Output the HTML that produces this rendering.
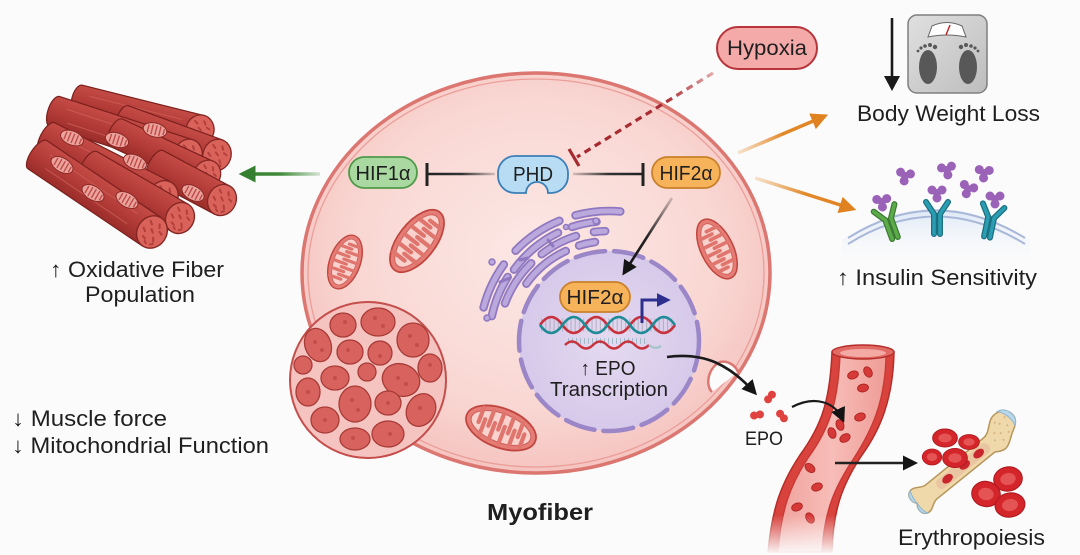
<!DOCTYPE html>
<html><head><meta charset="utf-8">
<style>
html,body{margin:0;padding:0;background:#fbfbfb;}
svg{display:block;}
text{font-family:"Liberation Sans",Arial,sans-serif;fill:#1f1f1f;}
</style></head>
<body>
<svg width="1080" height="555" viewBox="0 0 1080 555" xmlns="http://www.w3.org/2000/svg">
<defs>
  <radialGradient id="cellg" cx="50%" cy="45%" r="55%">
    <stop offset="0" stop-color="#fce8e5"/>
    <stop offset="0.7" stop-color="#f9d7d3"/>
    <stop offset="1" stop-color="#f5c4c0"/>
  </radialGradient>
  <radialGradient id="nucg" cx="50%" cy="50%" r="50%">
    <stop offset="0" stop-color="#e4daf0"/>
    <stop offset="1" stop-color="#d6c9ea"/>
  </radialGradient>
  <linearGradient id="muscg" x1="0" y1="0" x2="0" y2="1">
    <stop offset="0" stop-color="#c44b46"/>
    <stop offset="0.5" stop-color="#b43c38"/>
    <stop offset="1" stop-color="#9a2d2a"/>
  </linearGradient>
  <linearGradient id="vesg" x1="0" y1="0" x2="1" y2="0">
    <stop offset="0" stop-color="#f0a29d"/>
    <stop offset="0.5" stop-color="#f7bdb8"/>
    <stop offset="1" stop-color="#ef9c96"/>
  </linearGradient>
  <linearGradient id="fadeb" x1="0" y1="0" x2="0" y2="1">
    <stop offset="0" stop-color="#fbfbfb" stop-opacity="0"/>
    <stop offset="1" stop-color="#fbfbfb" stop-opacity="1"/>
  </linearGradient>
  <linearGradient id="memg" x1="0" y1="0" x2="0" y2="1">
    <stop offset="0" stop-color="#dce8f6"/>
    <stop offset="1" stop-color="#fbfbfb" stop-opacity="0"/>
  </linearGradient>
  <linearGradient id="scaleg" x1="0" y1="0" x2="1" y2="1">
    <stop offset="0" stop-color="#e0e0e0"/>
    <stop offset="1" stop-color="#bdbdbd"/>
  </linearGradient>
  <linearGradient id="org1" gradientUnits="userSpaceOnUse" x1="738" y1="153" x2="827" y2="115">
    <stop offset="0" stop-color="#e89a45" stop-opacity="0.25"/>
    <stop offset="0.5" stop-color="#e3892b"/>
    <stop offset="1" stop-color="#e0821f"/>
  </linearGradient>
  <linearGradient id="org2" gradientUnits="userSpaceOnUse" x1="755" y1="178" x2="855" y2="210">
    <stop offset="0" stop-color="#e89a45" stop-opacity="0.25"/>
    <stop offset="0.5" stop-color="#e3892b"/>
    <stop offset="1" stop-color="#e0821f"/>
  </linearGradient>
  <linearGradient id="grn" gradientUnits="userSpaceOnUse" x1="320" y1="0" x2="240" y2="0">
    <stop offset="0" stop-color="#3f8a3a" stop-opacity="0.2"/>
    <stop offset="0.5" stop-color="#3f8a3a"/>
    <stop offset="1" stop-color="#357f30"/>
  </linearGradient>
  <linearGradient id="ln1" gradientUnits="userSpaceOnUse" x1="495" y1="0" x2="428" y2="0">
    <stop offset="0" stop-color="#333" stop-opacity="0.2"/>
    <stop offset="0.5" stop-color="#333"/>
    <stop offset="1" stop-color="#222"/>
  </linearGradient>
  <linearGradient id="ln2" gradientUnits="userSpaceOnUse" x1="573" y1="0" x2="643" y2="0">
    <stop offset="0" stop-color="#333" stop-opacity="0.2"/>
    <stop offset="0.5" stop-color="#333"/>
    <stop offset="1" stop-color="#222"/>
  </linearGradient>
  <linearGradient id="ln3" gradientUnits="userSpaceOnUse" x1="672" y1="198" x2="622" y2="276">
    <stop offset="0" stop-color="#222" stop-opacity="0.2"/>
    <stop offset="0.5" stop-color="#222"/>
    <stop offset="1" stop-color="#111"/>
  </linearGradient>
  <linearGradient id="hyp" gradientUnits="userSpaceOnUse" x1="713" y1="73" x2="575" y2="158">
    <stop offset="0" stop-color="#e2a9ab"/>
    <stop offset="0.35" stop-color="#a92c33"/>
    <stop offset="1" stop-color="#a52a2f"/>
  </linearGradient>
  <marker id="ahB" viewBox="0 0 10 10" refX="8" refY="5" markerWidth="15" markerHeight="15" markerUnits="userSpaceOnUse" orient="auto">
    <path d="M0,0 L10,5 L0,10 Z" fill="#151515"/>
  </marker>
  <marker id="ahO" viewBox="0 0 10 10" refX="8" refY="5" markerWidth="17" markerHeight="17" markerUnits="userSpaceOnUse" orient="auto">
    <path d="M0,0 L10,5 L0,10 Z" fill="#e0821f"/>
  </marker>
  <marker id="ahG" viewBox="0 0 10 10" refX="8" refY="5" markerWidth="17" markerHeight="17" markerUnits="userSpaceOnUse" orient="auto">
    <path d="M0,0 L10,5 L0,10 Z" fill="#357f30"/>
  </marker>
  <marker id="ahN" viewBox="0 0 10 10" refX="8" refY="5" markerWidth="14" markerHeight="14" markerUnits="userSpaceOnUse" orient="auto">
    <path d="M0,0 L10,5 L0,10 Z" fill="#2d2f8f"/>
  </marker>
  <g id="mito">
    <ellipse cx="0" cy="0" rx="35" ry="17" fill="#e57d76" stroke="#c0453e" stroke-width="1.6"/>
    <ellipse cx="0" cy="0" rx="30" ry="12.5" fill="#f9d2ce" stroke="#d0625b" stroke-width="1"/>
    <path d="M-22,-11 V2 M-12,-12 V2 M-2,-12.5 V2 M8,-12 V2 M18,-11 V2 M-17,12 V-2 M-7,12.5 V-2 M3,12.5 V-2 M13,12 V-2 M23,10 V-2" stroke="#e0756e" stroke-width="4" stroke-linecap="round"/>
  </g>
  <g id="cap">
    <ellipse cx="0" cy="0" rx="14" ry="16" fill="#d9625b" stroke="#842623" stroke-width="1.3"/>
    <path d="M-7,-8 l3,2 M2,-10 l2,3 M6,-4 l3,1 M-9,1 l3,2 M-2,-2 l3,2 M4,4 l2,3 M-5,8 l3,1 M7,9 l-2,2 M-1,11 l2,1" stroke="#b4403b" stroke-width="2" stroke-linecap="round"/>
  </g>
  <g id="bmito">
    <ellipse cx="0" cy="0" rx="12" ry="7" fill="#eba39d" stroke="#8e2a26" stroke-width="1"/>
    <path d="M-7,-4 V4 M-3,-5 V5 M1,-5 V5 M5,-5 V5 M9,-3 V3" stroke="#c04a45" stroke-width="1.4"/>
  </g>
  <g id="rbc">
    <ellipse cx="0" cy="0" rx="13" ry="10" fill="#d4252b" stroke="#b01a20" stroke-width="1"/>
    <ellipse cx="0" cy="0" rx="7" ry="5" fill="#e55454"/>
  </g>
  <g id="rbcs">
    <ellipse cx="0" cy="0" rx="5" ry="3.5" fill="#d63a38" stroke="#a9221f" stroke-width="0.8"/>
  </g>
  <g id="lig">
    <circle cx="-5" cy="-3" r="4.5" fill="#9b63b8"/>
    <circle cx="5" cy="-3" r="4.5" fill="#9b63b8"/>
    <circle cx="0" cy="5" r="4.5" fill="#9b63b8"/>
    <circle cx="0" cy="0" r="4" fill="#9b63b8"/>
  </g>
  <g id="epo">
    <circle cx="-3" cy="0" r="4" fill="#e0433f"/>
    <circle cx="3" cy="0" r="4" fill="#e0433f"/>
  </g>
</defs>

<!-- ============ MUSCLE BUNDLE ============ -->
<g>
  <g transform="translate(200,130) rotate(14)">
    <path d="M0,-15 H-125 A7,15 0 0 0 -125,15 H0 Z" fill="url(#muscg)" stroke="#7a201d" stroke-width="1.2"/>
    <path d="M-115,-6 H-20 M-110,6 H-25" stroke="#d0625c" stroke-width="1" opacity=".7"/>
    <use href="#cap" transform="scale(1,0.95)"/>
  </g>
  <g transform="translate(217,155) rotate(20)">
    <path d="M0,-16 H-100 A7,16 0 0 0 -100,16 H0 Z" fill="url(#muscg)" stroke="#7a201d" stroke-width="1.2"/>
    <use href="#cap"/>
  </g>
  <g transform="translate(188,155) rotate(18)">
    <path d="M0,-16 H-140 A7,16 0 0 0 -140,16 H0 Z" fill="url(#muscg)" stroke="#7a201d" stroke-width="1.2"/>
    <path d="M-130,-6 H-20 M-125,7 H-25" stroke="#d0625c" stroke-width="1" opacity=".7"/>
    <use href="#cap"/>
  </g>
  <g transform="translate(207,175) rotate(25)">
    <path d="M0,-15 H-100 A7,15 0 0 0 -100,15 H0 Z" fill="url(#muscg)" stroke="#7a201d" stroke-width="1.2"/>
    <use href="#cap" transform="scale(0.95)"/>
  </g>
  <g transform="translate(222,200) rotate(28)">
    <path d="M0,-16 H-75 A7,16 0 0 0 -75,16 H0 Z" fill="url(#muscg)" stroke="#7a201d" stroke-width="1.2"/>
    <use href="#cap"/>
  </g>
  <g transform="translate(163,197) rotate(27)">
    <path d="M0,-17 H-130 A7,17 0 0 0 -130,17 H0 Z" fill="url(#muscg)" stroke="#7a201d" stroke-width="1.2"/>
    <path d="M-120,-7 H-22 M-116,7 H-25" stroke="#d0625c" stroke-width="1" opacity=".7"/>
    <use href="#cap" transform="scale(1.05)"/>
  </g>
  <g transform="translate(180,218) rotate(30)">
    <path d="M0,-16 H-105 A7,16 0 0 0 -105,16 H0 Z" fill="url(#muscg)" stroke="#7a201d" stroke-width="1.2"/>
    <use href="#cap"/>
  </g>
  <g transform="translate(152,232) rotate(34)">
    <path d="M0,-17 H-138 A7,17 0 0 0 -138,17 H0 Z" fill="url(#muscg)" stroke="#7a201d" stroke-width="1.2"/>
    <path d="M-128,-7 H-22 M-124,7 H-25" stroke="#d0625c" stroke-width="1" opacity=".7"/>
    <use href="#cap" transform="scale(1.05)"/>
  </g>
  <use href="#bmito" transform="translate(72,138) rotate(22)"/>
  <use href="#bmito" transform="translate(117,140) rotate(18)"/>
  <use href="#bmito" transform="translate(155,130) rotate(14)"/>
  <use href="#bmito" transform="translate(135,162) rotate(22)"/>
  <use href="#bmito" transform="translate(62,165) rotate(30)"/>
  <use href="#bmito" transform="translate(93,193) rotate(30)"/>
  <use href="#bmito" transform="translate(127,200) rotate(30)"/>
  <use href="#bmito" transform="translate(193,193) rotate(28)"/>
</g>

<!-- green arrow -->
<line x1="320" y1="174" x2="242" y2="174" stroke="url(#grn)" stroke-width="3.5" marker-end="url(#ahG)"/>

<!-- ============ CELL ============ -->
<ellipse cx="536" cy="273" rx="234" ry="200" fill="url(#cellg)" stroke="#dc7671" stroke-width="3.5"/>
<ellipse cx="536" cy="273" rx="228" ry="194" fill="none" stroke="#eb9e99" stroke-width="1.3"/>
<path d="M712,392 C705,385 708,368 720,362 C728,360 736,366 738,372" fill="#fbfbfb" stroke="#dc7671" stroke-width="2.5"/>

<!-- mitochondria -->
<use href="#mito" transform="translate(345,262) rotate(-70) scale(0.8,0.9)"/>
<use href="#mito" transform="translate(417,241) rotate(-52) scale(1.05,1.1)"/>
<use href="#mito" transform="translate(717,249) rotate(64) scale(0.92,0.95)"/>
<use href="#mito" transform="translate(501,428) rotate(21) scale(1.05,1.15)"/>

<!-- ER -->
<g fill="none" stroke-linecap="round">
  <g stroke="#8f78c0" stroke-width="8.5">
    <path d="M526.4,283.7 A100,100 0 0 1 565.8,251.0 M579.1,245.6 A100,100 0 0 1 595.0,242.0"/>
    <path d="M505.0,303.4 A110,110 0 0 1 531.2,263.2 M541.7,254.2 A110,110 0 0 1 576.0,236.0 M593.9,232.0 A110,110 0 0 1 605.2,231.1"/>
    <path d="M491.8,316.1 A120,120 0 0 1 507.7,277.0 M514.0,269.6 A120,120 0 0 1 558.0,232.7 M571.9,226.9 A120,120 0 0 1 596.5,221.7"/>
    <path d="M483.6,307.4 A130,130 0 0 1 503.8,264.5 M515.6,250.7 A130,130 0 0 1 559.4,220.8 M575.5,215.4 A130,130 0 0 1 620.3,211.5"/>
  </g>
  <g stroke="#bba9dd" stroke-width="5">
    <path d="M526.4,283.7 A100,100 0 0 1 565.8,251.0 M579.1,245.6 A100,100 0 0 1 595.0,242.0"/>
    <path d="M505.0,303.4 A110,110 0 0 1 531.2,263.2 M541.7,254.2 A110,110 0 0 1 576.0,236.0 M593.9,232.0 A110,110 0 0 1 605.2,231.1"/>
    <path d="M491.8,316.1 A120,120 0 0 1 507.7,277.0 M514.0,269.6 A120,120 0 0 1 558.0,232.7 M571.9,226.9 A120,120 0 0 1 596.5,221.7"/>
    <path d="M483.6,307.4 A130,130 0 0 1 503.8,264.5 M515.6,250.7 A130,130 0 0 1 559.4,220.8 M575.5,215.4 A130,130 0 0 1 620.3,211.5"/>
  </g>
  <g fill="#bba9dd" stroke="#8f78c0" stroke-width="1.5">
    <circle cx="596" cy="221" r="3"/>
    <circle cx="487" cy="318" r="3"/>
    <circle cx="566" cy="227" r="2.5"/>
    <circle cx="492" cy="262" r="3"/>
  </g>
  <path d="M500,282 L510,278 M520,260 L528,258 M548,240 L553,246" stroke="#8f78c0" stroke-width="3"/>
</g>

<!-- nucleus -->
<circle cx="609" cy="341" r="90" fill="url(#nucg)"/>
<circle cx="609" cy="341" r="90" fill="none" stroke="#9b86c7" stroke-width="4.5" stroke-dasharray="30 9" stroke-linecap="round"/>

<!-- cross section -->
<g>
  <circle cx="368" cy="380" r="78" fill="#f5c4c0" stroke="#c44e4b" stroke-width="2"/>
  <g fill="#d8635e" stroke="#a83b37" stroke-width="1.3">
    <ellipse cx="318" cy="345" rx="13" ry="17" transform="rotate(-20 318 345)"/>
    <ellipse cx="343" cy="325" rx="13" ry="12"/>
    <ellipse cx="378" cy="322" rx="17" ry="14"/>
    <ellipse cx="413" cy="340" rx="16" ry="17"/>
    <ellipse cx="303" cy="365" rx="9" ry="9"/>
    <ellipse cx="350" cy="352" rx="13" ry="12"/>
    <ellipse cx="380" cy="353" rx="12" ry="12"/>
    <ellipse cx="430" cy="368" rx="12" ry="14"/>
    <ellipse cx="367" cy="372" rx="9" ry="9"/>
    <ellipse cx="335" cy="378" rx="14" ry="12"/>
    <ellipse cx="401" cy="380" rx="19" ry="16" transform="rotate(20 401 380)"/>
    <ellipse cx="308" cy="392" rx="12" ry="14"/>
    <ellipse cx="355" cy="404" rx="16" ry="18"/>
    <ellipse cx="388" cy="403" rx="13" ry="12"/>
    <ellipse cx="421" cy="410" rx="14" ry="17" transform="rotate(30 421 410)"/>
    <ellipse cx="325" cy="420" rx="14" ry="13"/>
    <ellipse cx="355" cy="439" rx="15" ry="11"/>
    <ellipse cx="388" cy="434" rx="16" ry="13"/>
  </g>
  <g fill="#b94640" opacity="0.7">
    <circle cx="315" cy="342" r="2"/><circle cx="322" cy="350" r="2"/><circle cx="345" cy="322" r="2"/>
    <circle cx="375" cy="318" r="2"/><circle cx="383" cy="326" r="2"/><circle cx="410" cy="336" r="2"/>
    <circle cx="417" cy="345" r="2"/><circle cx="348" cy="350" r="2"/><circle cx="380" cy="356" r="2"/>
    <circle cx="430" cy="365" r="2"/><circle cx="335" cy="378" r="2"/><circle cx="398" cy="378" r="2"/>
    <circle cx="406" cy="384" r="2"/><circle cx="352" cy="400" r="2"/><circle cx="358" cy="410" r="2"/>
    <circle cx="388" cy="403" r="2"/><circle cx="420" cy="408" r="2"/><circle cx="325" cy="420" r="2"/>
    <circle cx="353" cy="438" r="2"/><circle cx="390" cy="434" r="2"/><circle cx="308" cy="392" r="2"/>
  </g>
</g>

<!-- DNA -->
<g fill="none">
  <path d="M541,325 H674" stroke="#9a9aa6" stroke-width="13" stroke-dasharray="1.2 3" opacity="0.55"/>
  <path d="M540,325 Q551.25,309 562.5,325 T585,325 T607.5,325 T630,325 T652.5,325 T675,325" stroke="#c8323c" stroke-width="2.6"/>
  <path d="M540,325 Q551.25,341 562.5,325 T585,325 T607.5,325 T630,325 T652.5,325 T675,325" stroke="#1f8b96" stroke-width="2.6"/>
  <path d="M568,341 H646" stroke="#7aa9b0" stroke-width="6" stroke-dasharray="1 3" opacity="0.6"/>
  <path d="M565,345 Q572,338 579,345 T593,345 T607,345 T621,345 T635,345 T649,345" stroke="#c8323c" stroke-width="2.4"/>
  <path d="M649,345 Q655,350 661,346" stroke="#9fc2c8" stroke-width="2"/>
</g>
<polyline points="642,323 642,300 668,300" fill="none" stroke="#2d2f8f" stroke-width="3" marker-end="url(#ahN)"/>

<rect x="560" y="282" width="70" height="30" rx="15" fill="#f7b35a" stroke="#c9802a" stroke-width="1.8"/>
<text x="595" y="304" font-size="20" text-anchor="middle" textLength="57" lengthAdjust="spacingAndGlyphs">HIF2α</text>

<text x="608" y="375" font-size="20" text-anchor="middle" textLength="55" lengthAdjust="spacingAndGlyphs">↑ EPO</text>
<text x="609" y="396" font-size="20" text-anchor="middle" textLength="118" lengthAdjust="spacingAndGlyphs">Transcription</text>

<!-- HIF1a / PHD / HIF2a -->
<line x1="495" y1="174" x2="428" y2="174" stroke="url(#ln1)" stroke-width="2.6"/>
<line x1="427" y1="163" x2="427" y2="186" stroke="#222" stroke-width="3"/>
<line x1="573" y1="174" x2="643" y2="174" stroke="url(#ln2)" stroke-width="2.6"/>
<line x1="643" y1="163" x2="643" y2="186" stroke="#222" stroke-width="3"/>

<rect x="349" y="157" width="68" height="31" rx="15.5" fill="#a9d8a0" stroke="#4f9a48" stroke-width="1.8"/>
<text x="383" y="180" font-size="20" text-anchor="middle" textLength="55" lengthAdjust="spacingAndGlyphs">HIF1α</text>

<path d="M515,156 H551 A17,17 0 0 1 568,173 V176 A17,17 0 0 1 551,193 H548 A11,11 0 0 0 526,193 H515 A17,17 0 0 1 498,176 V173 A17,17 0 0 1 515,156 Z" fill="#b7dcf3" stroke="#3b7fb8" stroke-width="1.8"/>
<text x="533" y="181" font-size="20" text-anchor="middle" textLength="40" lengthAdjust="spacingAndGlyphs">PHD</text>

<rect x="652" y="157" width="68" height="31" rx="15.5" fill="#f7b35a" stroke="#c9802a" stroke-width="1.8"/>
<text x="686" y="180" font-size="20" text-anchor="middle" textLength="53" lengthAdjust="spacingAndGlyphs">HIF2α</text>

<!-- Hypoxia -->
<line x1="713" y1="73" x2="577" y2="157" stroke="url(#hyp)" stroke-width="3.2" stroke-dasharray="7 5"/>
<line x1="569" y1="149" x2="579" y2="166" stroke="#a52a2f" stroke-width="3.2"/>
<rect x="717" y="27" width="100" height="42" rx="21" fill="#f3aaa9" stroke="#b8343a" stroke-width="2"/>
<text x="767" y="55" font-size="21" text-anchor="middle" textLength="80" lengthAdjust="spacingAndGlyphs">Hypoxia</text>

<line x1="672" y1="198" x2="624" y2="273" stroke="url(#ln3)" stroke-width="2.6" marker-end="url(#ahB)"/>

<line x1="738" y1="153" x2="825" y2="116" stroke="url(#org1)" stroke-width="3.5" marker-end="url(#ahO)"/>
<line x1="755" y1="178" x2="853" y2="209" stroke="url(#org2)" stroke-width="3.5" marker-end="url(#ahO)"/>

<path d="M667,357 C705,352 730,365 755,393" fill="none" stroke="#1a1a1a" stroke-width="2.6" marker-end="url(#ahB)"/>
<use href="#epo" transform="translate(770,397) rotate(-50)"/>
<use href="#epo" transform="translate(757,415) rotate(-10)"/>
<use href="#epo" transform="translate(782,416) rotate(50)"/>
<text x="764" y="445" font-size="19" text-anchor="middle" textLength="38" lengthAdjust="spacingAndGlyphs">EPO</text>

<!-- ============ VESSEL ============ -->
<g>
  <path d="M832,352 C830,400 822,425 800,455 C780,485 772,510 768,552 L832,552 C833,510 842,485 862,455 C880,430 893,400 894,352 Z" fill="#d8433e" stroke="#b52d29" stroke-width="1.5"/>
  <path d="M840,356 C838,402 830,428 808,458 C789,487 781,512 778,552 L822,552 C824,512 834,488 854,458 C872,430 885,402 886,356 Z" fill="url(#vesg)" stroke="#c93833" stroke-width="1.3"/>
  <ellipse cx="863" cy="352" rx="31" ry="7" fill="#e26a65" stroke="#b52d29" stroke-width="1.5"/>
  <ellipse cx="863" cy="353" rx="23" ry="4" fill="#f3aaa5"/>
  <use href="#rbcs" transform="translate(853,375) rotate(-20) scale(1.1)"/>
  <use href="#rbcs" transform="translate(868,372) rotate(60) scale(1.1)"/>
  <use href="#rbcs" transform="translate(863,388) rotate(-10) scale(1.1)"/>
  <use href="#rbcs" transform="translate(860,417) rotate(-20) scale(1.1)"/>
  <use href="#rbcs" transform="translate(840,425) rotate(70) scale(1.1)"/>
  <use href="#rbcs" transform="translate(832,433) rotate(70) scale(1.1)"/>
  <use href="#rbcs" transform="translate(845,438) rotate(-30) scale(1.1)"/>
  <use href="#rbcs" transform="translate(810,468) rotate(40) scale(1.1)"/>
  <use href="#rbcs" transform="translate(817,487) rotate(-20) scale(1.1)"/>
  <use href="#rbcs" transform="translate(797,507) rotate(-20) scale(1.1)"/>
  <use href="#rbcs" transform="translate(810,518) rotate(60) scale(1.1)"/>
  <rect x="760" y="515" width="80" height="40" fill="url(#fadeb)"/>
</g>
<path d="M792,407 C815,395 835,402 843,420" fill="none" stroke="#1a1a1a" stroke-width="2.2" marker-end="url(#ahB)"/>
<line x1="835" y1="463" x2="915" y2="463" stroke="#222" stroke-width="2.6" marker-end="url(#ahB)"/>

<!-- ============ BONE ============ -->
<g transform="translate(967,463) rotate(-39)">
  <path d="M-46,-9 L28,-9 C36,-9 40,-16 46,-19 C54,-23 66,-18 66,-8 C66,-2 60,2 56,4 C50,7 46,12 40,13 C34,14 30,9 28,9 L-46,9 C-52,9 -56,16 -62,14 C-68,12 -68,4 -64,0 C-68,-4 -68,-12 -62,-14 C-56,-16 -52,-9 -46,-9 Z" fill="#efd9aa" stroke="#b8955a" stroke-width="1.5"/>
  <path d="M-62,-14 C-68,-12 -68,-4 -64,0 C-68,4 -68,12 -62,14 C-66,8 -64,-8 -62,-14 Z" fill="#b9d7ea" stroke="#8fb4cc" stroke-width="1"/>
  <path d="M56,-21 C62,-20 66,-15 66,-8 C66,-4 64,-1 61,1 C63,-6 61,-15 56,-21 Z" fill="#b9d7ea" stroke="#8fb4cc" stroke-width="1"/>
  <rect x="-38" y="-5.5" width="66" height="11" rx="5" fill="#e8bfa0" opacity="0.8"/>
  <ellipse cx="-25" cy="0" rx="6" ry="4" fill="#c8262c"/>
  <ellipse cx="-3" cy="0" rx="6" ry="4" fill="#c8262c"/>
  <ellipse cx="15" cy="0" rx="6" ry="4" fill="#c8262c"/>
  <g fill="#c9a46c" opacity="0.7">
    <circle cx="40" cy="-6" r="1"/><circle cx="45" cy="-2" r="1"/><circle cx="50" cy="-10" r="1"/>
    <circle cx="55" cy="-4" r="1"/><circle cx="43" cy="5" r="1"/><circle cx="36" cy="0" r="1"/>
    <circle cx="52" cy="2" r="1"/><circle cx="58" cy="-12" r="1"/><circle cx="47" cy="-14" r="1"/>
  </g>
</g>
<use href="#rbc" transform="translate(945,438) scale(0.95,0.9)"/>
<use href="#rbc" transform="translate(969,442) scale(0.8,0.75)"/>
<use href="#rbc" transform="translate(932,457) scale(0.75,0.8)"/>
<use href="#rbc" transform="translate(955,458) scale(0.95,0.95)"/>
<use href="#rbc" transform="translate(1008,479) rotate(-10) scale(1.1,1.2)"/>
<use href="#rbc" transform="translate(986,494) rotate(10) scale(1.1,1.25)"/>
<use href="#rbc" transform="translate(1010,505) rotate(-10) scale(1.15,1.2)"/>

<!-- ============ SCALE ============ -->
<line x1="892" y1="18" x2="892" y2="78" stroke="#1a1a1a" stroke-width="2.6"/>
<path d="M884,76 L900,76 L892,91 Z" fill="#1a1a1a"/>
<rect x="908" y="15" width="79" height="78" rx="9" fill="url(#scaleg)" stroke="#7f7f7f" stroke-width="1.5"/>
<path d="M928,37 L932,26 Q947,19 962,26 L966,37 Q947,33 928,37 Z" fill="#fff" stroke="#666" stroke-width="1"/>
<line x1="946" y1="35" x2="950" y2="25" stroke="#c0292b" stroke-width="1.5"/>
<ellipse cx="928" cy="67" rx="9" ry="17" fill="#585858"/>
<ellipse cx="968" cy="67" rx="9" ry="17" fill="#585858"/>
<g fill="#585858">
  <circle cx="935" cy="47" r="2.2"/><circle cx="930" cy="45" r="2"/><circle cx="925" cy="46" r="1.8"/><circle cx="921" cy="48" r="1.6"/><circle cx="918" cy="51" r="1.4"/>
  <circle cx="961" cy="47" r="2.2"/><circle cx="966" cy="45" r="2"/><circle cx="971" cy="46" r="1.8"/><circle cx="975" cy="48" r="1.6"/><circle cx="978" cy="51" r="1.4"/>
</g>
<text x="857" y="121" font-size="22" textLength="183" lengthAdjust="spacingAndGlyphs">Body Weight Loss</text>

<!-- ============ INSULIN ============ -->
<path d="M842,240 Q935,178 1030,240 L1030,268 L842,268 Z" fill="url(#memg)"/>
<path d="M848,238 Q935,183 1025,238" fill="none" stroke="#a9b7d8" stroke-width="2"/>
<path d="M848,244 Q935,189 1025,244" fill="none" stroke="#a9b7d8" stroke-width="2"/>
<g stroke-linecap="round" fill="none">
  <g transform="translate(895,238) rotate(-20)">
    <path d="M-3,0 V-20 L-11,-32 M3,0 V-20 L11,-32" stroke="#3d7a33" stroke-width="6"/>
    <path d="M-3,0 V-20 L-11,-32 M3,0 V-20 L11,-32" stroke="#5bab4b" stroke-width="3.5"/>
  </g>
  <g transform="translate(937,234)">
    <path d="M-3,0 V-20 L-11,-32 M3,0 V-20 L11,-32" stroke="#1b6f80" stroke-width="6"/>
    <path d="M-3,0 V-20 L-11,-32 M3,0 V-20 L11,-32" stroke="#2a9db2" stroke-width="3.5"/>
  </g>
  <g transform="translate(987,237) rotate(12)">
    <path d="M-3,0 V-20 L-11,-32 M3,0 V-20 L11,-32" stroke="#1b6f80" stroke-width="6"/>
    <path d="M-3,0 V-20 L-11,-32 M3,0 V-20 L11,-32" stroke="#2a9db2" stroke-width="3.5"/>
  </g>
</g>
<use href="#lig" transform="translate(905,176) rotate(10)"/>
<use href="#lig" transform="translate(947,170) rotate(-10)"/>
<use href="#lig" transform="translate(984,173) rotate(5)"/>
<use href="#lig" transform="translate(968,189) rotate(20)"/>
<use href="#lig" transform="translate(937,193)"/>
<use href="#lig" transform="translate(882,202) rotate(-5)"/>
<use href="#lig" transform="translate(995,199)"/>
<text x="837" y="285" font-size="22" textLength="200" lengthAdjust="spacingAndGlyphs">↑ Insulin Sensitivity</text>

<!-- ============ LEFT TEXT ============ -->
<text x="50" y="277" font-size="22" textLength="174" lengthAdjust="spacingAndGlyphs">↑ Oxidative Fiber</text>
<text x="85" y="302" font-size="22" textLength="110" lengthAdjust="spacingAndGlyphs">Population</text>
<text x="12" y="426" font-size="22" textLength="155" lengthAdjust="spacingAndGlyphs">↓ Muscle force</text>
<text x="12" y="453" font-size="22" textLength="257" lengthAdjust="spacingAndGlyphs">↓ Mitochondrial Function</text>

<text x="487" y="520" font-size="23" font-weight="bold" textLength="106" lengthAdjust="spacingAndGlyphs">Myofiber</text>
<text x="898" y="545" font-size="22" textLength="147" lengthAdjust="spacingAndGlyphs">Erythropoiesis</text>
</svg>
</body></html>
